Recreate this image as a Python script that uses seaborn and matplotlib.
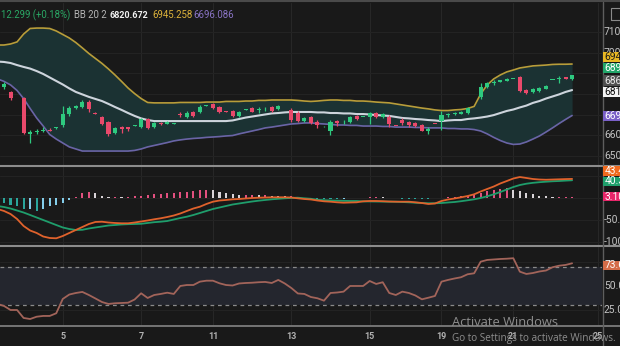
import numpy as np
import pandas as pd
import seaborn as sns
import matplotlib
matplotlib.use("Agg")
import matplotlib.pyplot as plt
from matplotlib.patches import Rectangle
from matplotlib.lines import Line2D
from matplotlib.transforms import blended_transform_factory

nan = np.nan

# ---------------- data ----------------
tick_pos = [9, 21, 32, 44, 56, 67, 78, 91]
tick_labels = ["5", "7", "11", "13", "15", "19", "21", "25"]

open_ = [6834, 6810, nan, 6781, 6607, 6614, 6623, 6626, 6636, 6650,
         6703, 6730, 6737, 6761, 6708, 6689, 6665, 6611, 6638, 6638,
         6645, 6640, 6679, 6640, 6660, 6655, 6659, 6703, 6690, 6713,
         6714, 6745, 6752, 6736, 6716, 6718, 6695, 6725, 6734, 6725,
         6726, 6739, 6726, nan, 6723, 6710, 6669, 6689, 6665, 6640,
         6621, 6667, 6663, 6665, 6694, 6689, 6689, 6708, 6689, 6689,
         6650, 6674, 6665, 6660, 6650, 6621, 6660, 6667, 6696, 6702,
         6705, 6708, 6722, 6786, 6834, 6853, 6858, 6863, 6873, 6882,
         6819, 6810, 6815, 6824, 6868, 6875, 6881, 6873]
high = [6858, 6815, nan, 6786, 6626, 6633, 6640, 6636, 6640, 6742,
        6742, 6747, 6771, 6771, 6713, 6694, 6669, 6640, 6645, 6640,
        6648, 6684, 6684, 6665, 6665, 6669, 6660, 6714, 6718, 6718,
        6747, 6747, 6757, 6742, 6716, 6723, 6718, 6727, 6737, 6736,
        6737, 6742, 6747, nan, 6731, 6718, 6689, 6694, 6674, 6643,
        6674, 6674, 6674, 6694, 6698, 6690, 6714, 6713, 6708, 6698,
        6651, 6684, 6669, 6665, 6655, 6639, 6661, 6718, 6708, 6714,
        6716, 6737, 6724, 6853, 6858, 6868, 6870, 6877, 6875, 6885,
        6822, 6827, 6832, 6844, 6869, 6887, 6882, 6892]
low = [6824, 6771, nan, 6607, 6563, 6607, 6616, 6619, 6633, 6640,
       6694, 6727, 6732, 6713, 6703, 6650, 6597, 6607, 6611, 6621,
       6643, 6636, 6631, 6636, 6650, 6653, 6657, 6689, 6686, 6689,
       6708, 6744, 6727, 6710, 6713, 6691, 6687, 6724, 6711, 6710,
       6718, 6715, 6723, nan, 6666, 6665, 6665, 6655, 6636, 6639,
       6602, 6645, 6655, 6660, 6674, 6688, 6655, 6684, 6684, 6642,
       6648, 6650, 6642, 6638, 6619, 6607, 6658, 6626, 6687, 6697,
       6702, 6705, 6721, 6776, 6831, 6844, 6856, 6861, 6872, 6812,
       6802, 6807, 6812, 6822, 6867, 6853, 6873, 6870]
close = [6848, 6781, nan, 6611, 6616, 6623, 6626, 6623, 6638, 6703,
         6732, 6742, 6761, 6727, 6706, 6655, 6607, 6636, 6633, 6633,
         6646, 6679, 6636, 6660, 6655, 6665, 6660, 6698, 6710, 6695,
         6736, 6747, 6732, 6714, 6714, 6695, 6712, 6726, 6714, 6728,
         6729, 6719, 6742, nan, 6674, 6671, 6684, 6660, 6650, 6641,
         6665, 6662, 6666, 6689, 6679, 6690, 6708, 6689, 6703, 6655,
         6649, 6662, 6650, 6645, 6621, 6631, 6659, 6698, 6701, 6708,
         6712, 6732, 6723, 6834, 6853, 6857, 6868, 6873, 6874, 6815,
         6805, 6822, 6829, 6839, 6869, 6879, 6874, 6890]

# indicator series start one bar before the first visible candle (index -1)
bb_upper = [7037, 7037, 7042, 7052, 7090, 7117, 7119, 7119, 7117, 7105,
            7088, 7071, 7049, 7023, 6996, 6972, 6948, 6921, 6892, 6861,
            6829, 6802, 6778, 6759, 6757, 6757, 6757, 6757, 6759, 6759,
            6759, 6759, 6761, 6761, 6761, 6764, 6764, 6764, 6766, 6766,
            6769, 6769, 6771, 6771, 6771, 6771, 6769, 6766, 6764, 6766,
            6769, 6771, 6771, 6769, 6769, 6766, 6766, 6764, 6761, 6759,
            6757, 6752, 6747, 6742, 6737, 6732, 6728, 6723, 6720, 6720,
            6723, 6725, 6730, 6740, 6800, 6844, 6873, 6892, 6907, 6916,
            6926, 6931, 6936, 6938, 6940, 6943, 6944, 6944, 6945]
bb_mid = [6957, 6955, 6950, 6940, 6931, 6923, 6911, 6897, 6880, 6863,
          6846, 6827, 6810, 6798, 6786, 6776, 6766, 6752, 6737, 6723,
          6708, 6694, 6682, 6674, 6669, 6669, 6669, 6669, 6669, 6669,
          6669, 6669, 6669, 6669, 6669, 6669, 6672, 6679, 6686, 6691,
          6696, 6701, 6706, 6708, 6711, 6713, 6713, 6713, 6713, 6711,
          6711, 6708, 6708, 6706, 6706, 6703, 6703, 6701, 6698, 6696,
          6694, 6689, 6684, 6682, 6679, 6677, 6674, 6672, 6669, 6672,
          6674, 6674, 6679, 6682, 6686, 6691, 6698, 6708, 6718, 6725,
          6735, 6744, 6757, 6766, 6778, 6788, 6798, 6810, 6819]
bb_lower = [6873, 6861, 6844, 6817, 6778, 6730, 6684, 6645, 6604, 6582,
            6563, 6544, 6534, 6524, 6524, 6524, 6524, 6524, 6524, 6524,
            6524, 6527, 6534, 6544, 6551, 6558, 6565, 6573, 6578, 6582,
            6585, 6587, 6590, 6592, 6594, 6597, 6599, 6607, 6614, 6621,
            6628, 6636, 6640, 6645, 6650, 6655, 6657, 6660, 6660, 6657,
            6655, 6653, 6650, 6650, 6648, 6648, 6645, 6645, 6645, 6643,
            6643, 6640, 6640, 6640, 6638, 6638, 6636, 6636, 6636, 6633,
            6633, 6631, 6631, 6628, 6621, 6607, 6590, 6575, 6563, 6556,
            6558, 6568, 6582, 6597, 6616, 6636, 6657, 6677, 6696]

macd_line = [-25.0, -29.5, -36.4, -47.7, -63.6, -73.9, -79.5, -87.5, -90.9, -91.6,
             -86.4, -79.5, -72.7, -65.9, -59.1, -54.5, -53.9, -55.7, -56.8, -57.5,
             -57.5, -55.7, -53.4, -51.1, -48.4, -46.1, -43.2, -39.8, -35.2, -29.5,
             -23.9, -19.8, -13.6, -8.4, -5.7, -4.5, -3.0, -2.3, -1.1, 0.0,
             0.7, 1.1, 1.6, 1.6, 1.6, 1.1, -0.7, -2.3, -3.4, -5.7,
             -7.5, -8.4, -9.8, -10.7, -10.2, -9.8, -7.5, -6.8, -6.8, -7.3,
             -8.0, -8.4, -8.4, -8.4, -9.8, -11.4, -13.6, -12.5, -6.8, -3.4,
             -1.1, 1.6, 4.5, 8.4, 14.8, 20.5, 26.1, 33.0, 38.6, 44.3,
             47.7, 45.5, 43.2, 42.0, 41.5, 42.0, 42.5, 43.0, 43.4]
macd_signal = [-18.2, -20.5, -23.9, -28.4, -33.0, -38.6, -44.3, -50.0, -55.7, -61.4,
               -67.0, -70.5, -72.7, -72.3, -69.3, -67.0, -64.8, -62.5, -61.4, -60.2,
               -59.5, -59.1, -58.6, -56.8, -55.0, -53.9, -52.3, -48.9, -45.5, -42.5,
               -38.6, -34.1, -29.5, -25.0, -21.6, -18.2, -14.8, -12.5, -10.2, -8.0,
               -6.1, -4.5, -3.0, -1.8, -0.7, 0.2, 0.7, -0.7, -1.8, -4.1,
               -5.0, -5.7, -6.1, -6.4, -6.8, -6.8, -7.8, -7.8, -8.0, -8.2,
               -8.4, -8.4, -9.1, -9.8, -10.7, -11.4, -12.0, -12.0, -11.4, -10.2,
               -9.1, -7.3, -5.2, -3.0, 0.0, 3.9, 8.4, 13.6, 19.3, 25.0,
               29.5, 32.5, 34.5, 35.9, 37.0, 38.0, 38.6, 39.5, 40.3]
macd_hist = [-11, -15, -19, -26, -25, -30, -26, -19, -15, -11,
             -4, 1.5, 11, 13, 11, 5, 2, 2, 1.5, 1.5,
             3.5, 5, 7.5, 9, 10, 11, 11, 13.5, 13.5, 16.5,
             17.5, 19, 17.5, 13.5, 11, 9, 7.5, 7.5, 7.5, 6,
             6, 5, 4.5, 4, 4, 1.5, 0.3, -2, -2.5, -3,
             -3, -3, -2.5, -1, 0.3, 1, 2, 2, 1.5, 1,
             0.3, -1.5, -1.5, -2, -3, -3, -1, 1, 2, 3,
             3.5, 5, 7, 12, 16, 19, 21, 22, 19, 16,
             12, 8, 5, 3.5, 1.5, 2, 2.5, 3.1]
rsi = [31.3, 29.2, 25.0, 25.0, 16.7, 15.6, 18.0, 18.8, 18.8, 21.6,
       36.5, 41.1, 42.7, 43.8, 40.6, 37.0, 33.3, 31.3, 32.0, 32.3,
       32.6, 35.9, 42.4, 37.5, 40.6, 41.7, 43.0, 41.7, 50.0, 51.0,
       51.0, 54.5, 55.5, 55.5, 52.8, 51.0, 50.5, 52.6, 53.1, 53.4,
       53.9, 54.2, 53.1, 56.3, 52.6, 47.9, 42.2, 41.7, 38.5, 37.2,
       34.7, 42.7, 43.2, 44.1, 50.0, 50.0, 50.0, 55.2, 52.1, 53.9,
       42.7, 40.6, 44.1, 42.7, 40.1, 36.1, 37.8, 39.6, 54.5, 56.3,
       57.8, 59.1, 62.2, 63.2, 75.3, 77.1, 77.6, 78.1, 78.4, 78.9,
       64.9, 62.5, 63.5, 65.1, 66.1, 69.5, 71.1, 71.9, 73.6]

price_grid = [7100, 7000, 6900, 6800, 6700, 6600, 6500]
price_labels = [7100, 7000, 6600, 6500]      # the others sit behind value tags
macd_grid = [50, 0, -50, -100]
macd_labels = [-50, -100]
rsi_grid = [75, 50, 25]
rsi_labels = [50, 25]

# ---------------- style ----------------
W, H = 620, 346
BG = "#191919"
GREEN = "#2ec97f"
RED = "#e9496b"
sns.set_theme(style="dark", rc={"axes.facecolor": BG, "figure.facecolor": BG})
plt.rcParams["font.family"] = ["Roboto", "DejaVu Sans"]

fig = plt.figure(figsize=(W / 100, H / 100), dpi=100, facecolor=BG)


def add_px_axes(top, bottom):
    ax = fig.add_axes([0, 1 - bottom / H, 602 / W, (bottom - top) / H])
    ax.set_facecolor(BG)
    for s in ax.spines.values():
        s.set_visible(False)
    ax.grid(False)
    ax.set_xlim(-0.613, 91.58)
    ax.tick_params(length=0, labelleft=False, labelbottom=False)
    return ax


ax1 = add_px_axes(3, 164.5)
ax2 = add_px_axes(166.5, 244.5)
ax3 = add_px_axes(246.5, 325.5)
ax1.set_ylim(6458.9, 7240.3)
ax2.set_ylim(-105.7, 71.6)
ax3.set_ylim(8.85, 91.1)

xi = np.arange(-1, -1 + len(bb_upper))
xc = np.arange(len(close))

# grid
for ax in (ax1, ax2, ax3):
    for t in tick_pos:
        ax.axvline(t, color="#272727", lw=0.8, zorder=0)
for p in price_grid:
    ax1.axhline(p, color="#232323", lw=0.8, zorder=0)
for m in macd_grid:
    ax2.axhline(m, color="#232323", lw=0.8, zorder=0)
for r in rsi_grid:
    ax3.axhline(r, color="#232323", lw=0.8, zorder=0)

# ---- price panel ----
ax1.fill_between(xi, bb_upper, bb_lower, color="#1b3233", lw=0, zorder=1)
sns.lineplot(x=xi, y=bb_upper, ax=ax1, color="#b89d3a", linewidth=1.2, zorder=2)
sns.lineplot(x=xi, y=bb_mid, ax=ax1, color="#cdd4dc", linewidth=1.5, zorder=2)
sns.lineplot(x=xi, y=bb_lower, ax=ax1, color="#6a64a6", linewidth=1.2, zorder=2)

o = np.array(open_, float); c = np.array(close, float)
h = np.array(high, float); l = np.array(low, float)
ok = ~np.isnan(c)
col = np.where(c >= o, GREEN, RED)
ax1.vlines(xc[ok], l[ok], h[ok], colors=col[ok], lw=0.9, zorder=3)
bh = np.maximum(np.abs(c - o), 4.5)
bb = (o + c) / 2 - bh / 2
ax1.bar(xc[ok], bh[ok], bottom=bb[ok], width=0.62, color=col[ok], linewidth=0, zorder=4)

# ---- MACD panel ----
hist = np.array(macd_hist, float)
prev = np.concatenate([[hist[0]], hist[:-1]])
hcol = np.where(hist >= 0,
                np.where(hist >= prev, "#e2507f", "#d9d4d8"),
                np.where(hist <= prev, "#2aa59b", "#84cdea"))
ax2.bar(xc, hist, width=0.32, color=hcol, linewidth=0, zorder=2)
sns.lineplot(x=xi, y=macd_signal, ax=ax2, color="#1f9e6c", linewidth=1.3, zorder=3)
sns.lineplot(x=xi, y=macd_line, ax=ax2, color="#e0622c", linewidth=1.3, zorder=4)

# ---- RSI panel ----
ax3.axhspan(30, 70, color="#24262e", lw=0, zorder=1)
for lvl in (70, 30):
    ax3.axhline(lvl, color="#8a8a8a", lw=0.9, ls=(0, (3, 3)), zorder=2)
sns.lineplot(x=xi, y=rsi, ax=ax3, color="#a2645a", linewidth=1.3, zorder=3)

ax3.set_xticks(tick_pos)
ax3.set_xticklabels(tick_labels)
ax3.tick_params(axis="x", labelbottom=True, length=0, pad=4.5, labelsize=6.5,
                labelcolor="#b0b0b0")
for t in ax3.get_xticklabels():
    t.set_fontweight("bold")

for ax in (ax1, ax2, ax3):
    ax.set_ylabel("")
    ax.set_xlabel("")

# ---------------- frame lines ----------------
def hline_px(y, color, lw):
    fig.add_artist(Line2D([0, 1], [1 - y / H] * 2, transform=fig.transFigure,
                          color=color, lw=lw, zorder=8))

hline_px(1.0, "#4a4a4a", 1.5)
hline_px(165.5, "#8c8c8c", 1.5)
hline_px(245.5, "#8c8c8c", 1.5)
hline_px(326.0, "#7c7c7c", 1.3)
fig.add_artist(Line2D([602.5 / W] * 2, [0, 1 - 2 / H], transform=fig.transFigure,
                      color="#5e5e5e", lw=1.0, zorder=8))
fig.add_artist(Rectangle((611 / W, 1 - 20 / H), 12 / W, 12 / H, transform=fig.transFigure,
                         facecolor="none", edgecolor="#8a8a8a", lw=0.8, zorder=9))

# ---------------- right axis labels ----------------
FS_R = 7.4

def axis_label(ax, val, txt):
    tr = blended_transform_factory(fig.transFigure, ax.transData)
    ax.text(604 / W, val, txt, transform=tr, color="#c4c4c4", fontsize=FS_R,
            va="center", ha="left", clip_on=False, zorder=6)

for p in price_labels:
    axis_label(ax1, p, f"{p}.000")
for m in macd_labels:
    axis_label(ax2, m, f"{m:.2f}")
for r in rsi_labels:
    axis_label(ax3, r, f"{r:.2f}")


def px_box(y0, y1, face, txt, tcolor):
    fig.add_artist(Rectangle((603 / W, 1 - y1 / H), 17 / W, (y1 - y0) / H,
                             transform=fig.transFigure, facecolor=face,
                             edgecolor="none", zorder=10))
    fig.text(604.5 / W, 1 - (y0 + y1) / 2 / H, txt, color=tcolor, fontsize=FS_R,
             va="center", ha="left", zorder=11)

px_box(52, 62, "#e9b824", f"{bb_upper[-1]:.3f}", "#1a1a1a")
px_box(63, 73, "#22a66a", f"{close[-1]:.3f}", "#ffffff")
px_box(75.5, 85.5, "#505050", "6860.000", "#e8e8e8")
px_box(87, 97.5, "#f4f4f4", f"{bb_mid[-1]:.3f}", "#111111")
px_box(110.5, 121, "#7a60c8", f"{bb_lower[-1]:.3f}", "#ffffff")
px_box(165.5, 175.5, "#f06a1e", f"{macd_line[-1]:.2f}", "#ffffff")
px_box(176.5, 186, "#1fa06c", f"{macd_signal[-1]:.2f}", "#ffffff")
px_box(192, 201, "#e8266a", f"{macd_hist[-1]:.2f}", "#ffffff")
px_box(260.5, 269.5, "#d46c48", f"{rsi[-1]:.2f}", "#ffffff")

# ---------------- header ----------------
def head(x, txt, color, weight="normal", size=6.9):
    fig.text(x / W, 1 - 15.5 / H, txt, color=color, fontsize=size, va="center",
             ha="left", fontweight=weight, zorder=12)

head(1, "12.299 (+0.18%)", "#2aa865")
head(74, "BB 20 2", "#b4b4b4")
head(110, "6820.672", "#f2f2f2", "bold", 6.5)
head(152, "6945.258", "#dcb23a")
head(193, "6696.086", "#8a74c6")

# ---------------- watermark ----------------
fig.text(452 / W, 1 - 323 / H, "Activate Windows", color="#8e8e8e", fontsize=9.3,
         va="center", ha="left", family=["Open Sans", "DejaVu Sans"], zorder=12)
fig.text(452 / W, 1 - 339 / H, "Go to Settings to activate Windows.", color="#8e8e8e",
         fontsize=7.2, va="center", ha="left", family=["Open Sans", "DejaVu Sans"], zorder=12)

fig.savefig("out.png", dpi=100, facecolor=BG)
